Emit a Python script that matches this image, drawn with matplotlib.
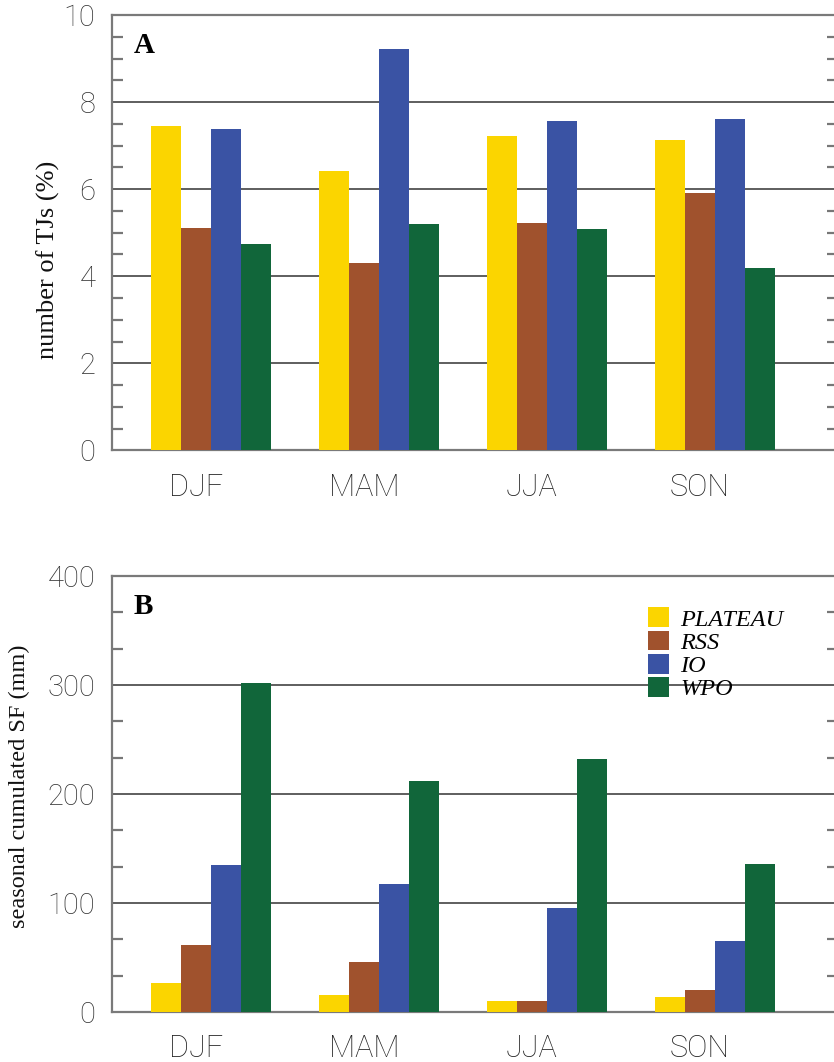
import numpy as np
import matplotlib.pyplot as plt
from matplotlib.ticker import MultipleLocator

seasons = ['DJF', 'MAM', 'JJA', 'SON']
regions = ['PLATEAU', 'RSS', 'IO', 'WPO']
colors = ['#fbd500', '#a0522d', '#3a53a4', '#11663a']

# panel A: share of TJs per season (%)
tj_plateau = [7.46, 6.42, 7.23, 7.14]
tj_rss = [5.10, 4.31, 5.23, 5.91]
tj_io = [7.37, 9.21, 7.56, 7.60]
tj_wpo = [4.73, 5.19, 5.09, 4.18]

# panel B: seasonal cumulated SF (mm)
sf_plateau = [26.6, 15.9, 9.8, 13.4]
sf_rss = [61.4, 46.1, 9.8, 20.2]
sf_io = [134.7, 117.6, 95.6, 65.1]
sf_wpo = [301.8, 211.7, 231.9, 135.9]

tick_font = dict(family=['Roboto', 'DejaVu Sans'], weight='light')
serif = ['Liberation Serif', 'DejaVu Serif']

W = 30 / 168
x = np.arange(len(seasons))
offsets = (np.arange(4) - 1.5) * W


def draw_panel(ax, series, ymax, major, minor, letter, ylabel, ylabel_xy,
               ylabel_size, legend=False):
    bars = []
    for vals, off, col, name in zip(series, offsets, colors, regions):
        bars.append(ax.bar(x + off, vals, W, color=col, label=name, zorder=3,
                           linewidth=0))
    ax.set_xlim(-0.589, 3.732)
    ax.set_ylim(0, ymax)

    ax.yaxis.set_major_locator(MultipleLocator(major))
    ax.yaxis.set_minor_locator(MultipleLocator(minor))
    ax.grid(axis='y', which='major', color='#5e5e5e', linewidth=1.4, zorder=1)
    ax.tick_params(axis='y', which='major', length=0, pad=12, labelsize=21)
    ax.tick_params(axis='y', which='minor', direction='in', length=8,
                   width=1.6, color='#777777', left=True, right=True)
    for lab in ax.get_yticklabels():
        lab.set(**tick_font)
        lab.set_color('#333333')
    ax.get_yticklabels()[-1].set_verticalalignment('top')

    # season names sit under the second bar of each group
    ax.set_xticks(x + offsets[1])
    ax.set_xticklabels(seasons, fontsize=22, color='#222222', **tick_font)
    ax.tick_params(axis='x', which='major', length=0, pad=16)
    ax.set_xticks(np.concatenate([x + o for o in offsets]), minor=True)
    ax.tick_params(axis='x', which='minor', direction='in', length=8,
                   width=1.2, color='#333333', bottom=True, top=False)

    for s in ax.spines.values():
        s.set_color('#7a7a7a')
        s.set_linewidth(1.6)

    ax.text(0.03, 0.96, letter, transform=ax.transAxes, fontsize=21,
            fontweight='bold', family=serif, va='top', ha='left')
    ax.set_ylabel(ylabel, fontsize=ylabel_size, family=serif, color='#111111')
    ax.yaxis.set_label_coords(*ylabel_xy, transform=ax.figure.transFigure)

    if legend:
        ax.legend(handles=bars, loc='upper left', bbox_to_anchor=(0.777, 0.428),
                  bbox_transform=ax.figure.transFigure, frameon=False,
                  prop=dict(family=serif, style='italic', size=17.5),
                  handlelength=0.87, handleheight=0.87, labelspacing=0.0,
                  handletextpad=0.45, borderpad=0, borderaxespad=0)


fig = plt.figure(figsize=(8.34, 10.62), dpi=100)
ax_a = fig.add_axes([0.1343, 0.5759, 0.8705, 0.4100])
ax_b = fig.add_axes([0.1343, 0.0471, 0.8705, 0.4105])

draw_panel(ax_a, [tj_plateau, tj_rss, tj_io, tj_wpo], 10, 2, 0.5, 'A',
           'number of TJs (%)', (0.072, 0.755), 19)
draw_panel(ax_b, [sf_plateau, sf_rss, sf_io, sf_wpo], 400, 100, 100 / 3, 'B',
           'seasonal cumulated SF (mm)', (0.036, 0.260), 17.5, legend=True)

fig.savefig('out.png', dpi=100)
